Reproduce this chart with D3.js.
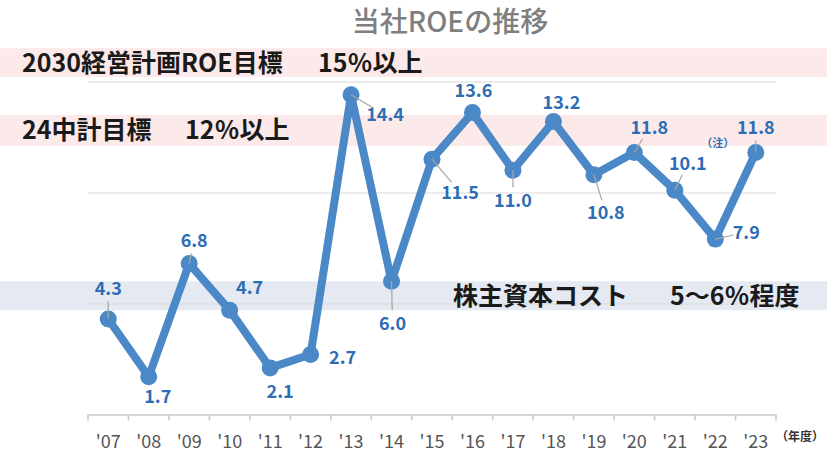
<!DOCTYPE html>
<html>
<head>
<meta charset="utf-8">
<script src="https://cdn.jsdelivr.net/npm/d3@7"></script>
<style>
  body { margin: 0; background: #fff; }
  svg { display: block; font-family: "Noto Sans CJK JP", "Noto Sans", sans-serif; }
</style>
</head>
<body>
<svg id="chart" width="827" height="457"></svg>
<script>
// data
const years = ["'07", "'08", "'09", "'10", "'11", "'12", "'13", "'14", "'15", "'16", "'17", "'18", "'19", "'20", "'21", "'22", "'23"];
const roe = [4.3, 1.7, 6.8, 4.7, 2.1, 2.7, 14.4, 6.0, 11.5, 13.6, 11.0, 13.2, 10.8, 11.8, 10.1, 7.9, 11.8];
const gridTicks = [5, 10, 15];
const bandTexts = ["2030経営計画ROE目標", "24中計目標", "株主資本コスト"];
const bandTargets = ["15％以上", "12％以上", "5～6％程度"];
const bandRanges = [[15.2, 16.5], [12.1, 13.5], [4.7, 6.0]];
const title = "当社ROEの推移";
const unitLabel = "（年度）";
const noteLabel = "（注）";
const noteYear = "'21";

// layout (not data): label offset from point, and whether a leader line is drawn
const labelOffsets = [
  [0, -31, 1], [9, 20, 0], [5, -23, 1], [20, -23, 0], [10, 24, 0], [32, 3, 0],
  [34, 20, 1], [1, 42, 1], [28, 33, 1], [1, -22, 0], [0, 30, 1], [8, -19, 0],
  [12, 38, 1], [15, -25, 1], [13, -27, 1], [31, -7, 1], [0, -25, 1]
];

const width = 827, height = 457;
const plot = { left: 88, right: 776, top: 81.5, bottom: 414.5 };

const svg = d3.select("#chart");

const x = d3.scaleBand(years, [plot.left, plot.right]).padding(0);
const y = d3.scaleLinear([0, 15], [plot.bottom, plot.top]);
const cx = d => x(d) + x.bandwidth() / 2;

// background bands
const bandColors = ["#fce9e9", "#fce9e9", "#e4e9f2"];
svg.selectAll(".band")
  .data(bandRanges)
  .enter()
  .append("rect")
  .attr("class", "band")
  .attr("x", 0)
  .attr("width", width)
  .attr("y", d => y(d[1]))
  .attr("height", d => y(d[0]) - y(d[1]))
  .attr("fill", (d, i) => bandColors[i]);

// gridlines
const grid = svg.append("g")
  .attr("transform", `translate(${plot.left},0)`)
  .call(d3.axisLeft(y).tickValues(gridTicks).tickSize(-(plot.right - plot.left)).tickFormat(""));
grid.select(".domain").remove();
grid.selectAll("line").attr("stroke", "#d9d9d9").attr("stroke-width", 1);

// x axis
const xaxis = svg.append("g")
  .attr("transform", `translate(0,${plot.bottom})`)
  .call(d3.axisBottom(x).tickSize(0).tickPadding(21));
xaxis.select(".domain").attr("stroke", "#c8c8c8").attr("stroke-width", 1.5);
xaxis.selectAll("text")
  .attr("font-size", 18)
  .attr("fill", "#555")
  .attr("font-family", "'Noto Sans CJK JP', sans-serif");
const edges = years.map(d => x(d)).concat([x.range()[1]]);
xaxis.selectAll(".edge")
  .data(edges)
  .enter()
  .append("line")
  .attr("class", "edge")
  .attr("x1", d => d).attr("x2", d => d)
  .attr("y1", 0).attr("y2", 6)
  .attr("stroke", "#c8c8c8")
  .attr("stroke-width", 1.5);

svg.append("text")
  .attr("x", 776)
  .attr("y", 441)
  .attr("font-size", 12)
  .attr("font-weight", "bold")
  .attr("fill", "#333")
  .text(unitLabel);

// band captions
const capY = bandRanges.map(d => (y(d[0]) + y(d[1])) / 2);
const capX = [22, 22, 453];
const targetX = [318, 185, 670];
bandTexts.forEach((t, i) => {
  svg.append("text")
    .attr("x", capX[i]).attr("y", capY[i])
    .attr("dy", "0.36em")
    .attr("font-size", 25)
    .attr("font-weight", "bold")
    .attr("fill", "#1a1a1a")
    .text(t);
  svg.append("text")
    .attr("x", targetX[i]).attr("y", capY[i])
    .attr("dy", "0.36em")
    .attr("font-size", 25)
    .attr("font-weight", "bold")
    .attr("fill", "#1a1a1a")
    .text(bandTargets[i]);
});

// title
svg.append("text")
  .attr("x", 450)
  .attr("y", 22)
  .attr("dy", "0.36em")
  .attr("text-anchor", "middle")
  .attr("font-size", 28)
  .attr("font-weight", 500)
  .attr("fill", "#7f7f7f")
  .text(title);

// line + markers
const data = years.map((d, i) => ({ year: d, value: roe[i], off: labelOffsets[i] }));
const line = d3.line().x(d => cx(d.year)).y(d => y(d.value));

svg.append("path")
  .datum(data)
  .attr("fill", "none")
  .attr("stroke", "#4b88c7")
  .attr("stroke-width", 8)
  .attr("stroke-linejoin", "round")
  .attr("d", line);

svg.selectAll(".dot")
  .data(data)
  .enter()
  .append("circle")
  .attr("class", "dot")
  .attr("cx", d => cx(d.year))
  .attr("cy", d => y(d.value))
  .attr("r", 8.5)
  .attr("fill", "#4b88c7");

// leader lines
svg.selectAll(".leader")
  .data(data.filter(d => d.off[2]))
  .enter()
  .append("line")
  .attr("class", "leader")
  .attr("x1", d => cx(d.year))
  .attr("y1", d => y(d.value))
  .attr("x2", d => {
    const len = Math.hypot(d.off[0], d.off[1]);
    return cx(d.year) + d.off[0] * (len - 13) / len;
  })
  .attr("y2", d => {
    const len = Math.hypot(d.off[0], d.off[1]);
    return y(d.value) + d.off[1] * (len - 13) / len;
  })
  .attr("stroke", "#a6a6a6")
  .attr("stroke-width", 1.2);

// value labels
svg.selectAll(".vlabel")
  .data(data)
  .enter()
  .append("text")
  .attr("class", "vlabel")
  .attr("x", d => cx(d.year) + d.off[0])
  .attr("y", d => y(d.value) + d.off[1])
  .attr("dy", "0.36em")
  .attr("text-anchor", "middle")
  .attr("font-size", 18)
  .attr("font-weight", "bold")
  .attr("fill", "#2e6db4")
  .text(d => d.value.toFixed(1));

// note mark
const noteIdx = years.indexOf(noteYear);
svg.append("text")
  .attr("x", cx(noteYear) + 43)
  .attr("y", y(roe[noteIdx]) - 47)
  .attr("dy", "0.36em")
  .attr("text-anchor", "middle")
  .attr("font-size", 11)
  .attr("font-weight", "bold")
  .attr("fill", "#2e6db4")
  .text(noteLabel);
</script>
</body>
</html>
